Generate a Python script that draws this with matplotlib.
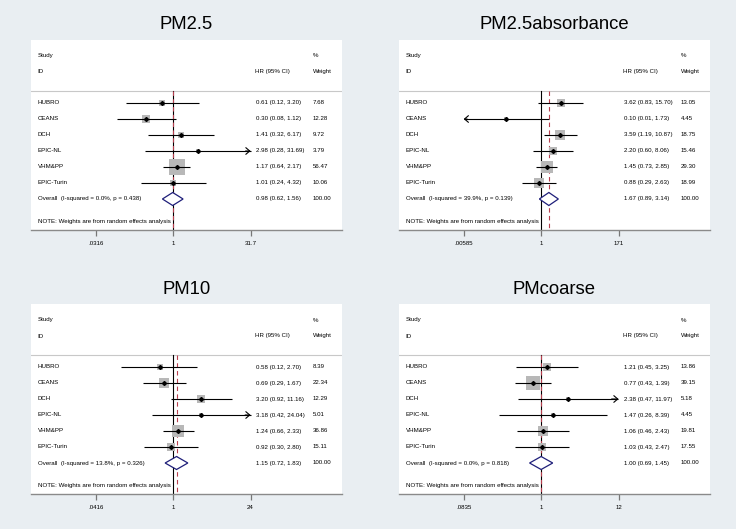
import numpy as np
import matplotlib
matplotlib.use("Agg")
import matplotlib.pyplot as plt
from matplotlib.transforms import blended_transform_factory

plt.rcParams['font.family'] = ['Liberation Sans', 'DejaVu Sans']

studies = ["HUBRO", "CEANS", "DCH", "EPIC-NL", "VHM&PP", "EPIC-Turin"]

titles = ["PM2.5", "PM2.5absorbance", "PM10", "PMcoarse"]

pm25_est = [0.61, 0.30, 1.41, 2.98, 1.17, 1.01]
pm25_lo = [0.12, 0.08, 0.32, 0.28, 0.64, 0.24]
pm25_hi = [3.20, 1.12, 6.17, 31.69, 2.17, 4.32]
pm25_w = [7.68, 12.28, 9.72, 3.79, 56.47, 10.06]
pm25_overall = [0.98, 0.62, 1.56]
pm25_het = [0.0, 0.438]
pm25_ticks = [".0316", "1", "31.7"]

abs_est = [3.62, 0.10, 3.59, 2.20, 1.45, 0.88]
abs_lo = [0.83, 0.00585, 1.19, 0.60, 0.73, 0.29]
abs_hi = [15.70, 1.73, 10.87, 8.06, 2.85, 2.63]
abs_w = [13.05, 4.45, 18.75, 15.46, 29.30, 18.99]
abs_overall = [1.67, 0.89, 3.14]
abs_het = [39.9, 0.139]
abs_ticks = [".00585", "1", "171"]

pm10_est = [0.58, 0.69, 3.20, 3.18, 1.24, 0.92]
pm10_lo = [0.12, 0.29, 0.92, 0.42, 0.66, 0.30]
pm10_hi = [2.70, 1.67, 11.16, 24.04, 2.33, 2.80]
pm10_w = [8.39, 22.34, 12.29, 5.01, 36.86, 15.11]
pm10_overall = [1.15, 0.72, 1.83]
pm10_het = [13.8, 0.326]
pm10_ticks = [".0416", "1", "24"]

coarse_est = [1.21, 0.77, 2.38, 1.47, 1.06, 1.03]
coarse_lo = [0.45, 0.43, 0.47, 0.26, 0.46, 0.43]
coarse_hi = [3.25, 1.39, 11.97, 8.39, 2.43, 2.47]
coarse_w = [13.86, 39.15, 5.18, 4.45, 19.81, 17.55]
coarse_overall = [1.00, 0.69, 1.45]
coarse_het = [0.0, 0.818]
coarse_ticks = [".0835", "1", "12"]

panels = [
    (pm25_est, pm25_lo, pm25_hi, pm25_w, pm25_overall, pm25_het, pm25_ticks),
    (abs_est, abs_lo, abs_hi, abs_w, abs_overall, abs_het, abs_ticks),
    (pm10_est, pm10_lo, pm10_hi, pm10_w, pm10_overall, pm10_het, pm10_ticks),
    (coarse_est, coarse_lo, coarse_hi, coarse_w, coarse_overall, coarse_het, coarse_ticks),
]

W, H = 736, 529
BG = '#e9eef2'
fig = plt.figure(figsize=(W / 100, H / 100), dpi=100, facecolor=BG)

origins = [(0, 0), (368, 0), (0, 264), (368, 264)]
FS = 4.4
ARROW = '->,head_length=0.28,head_width=0.24'

for (ox, oy), title, (est, lo, hi, w, ov, het, tlabs) in zip(origins, titles, panels):
    x0, x1 = ox + 31, ox + 342
    y0, y1 = oy + 40, oy + 230
    ax = fig.add_axes([x0 / W, 1 - y1 / H, (x1 - x0) / W, (y1 - y0) / H])
    ax.set_facecolor('white')
    ax.set_xscale('log')
    t = np.log10(float(tlabs[2]))
    s = 0.498 / (2 * t)
    left = -t - 0.208 / s
    right = t + 0.294 / s
    ax.set_xlim(10 ** left, 10 ** right)
    ax.set_ylim(190, 0)
    tmax = 10 ** t
    tmin = 10 ** -t
    ax.set_xticks([tmin, 1, tmax])
    ax.set_xticklabels(tlabs)
    ax.minorticks_off()
    ax.set_yticks([])
    for sp in ['top', 'left', 'right']:
        ax.spines[sp].set_visible(False)
    ax.spines['bottom'].set_color('#8a8a8a')
    ax.spines['bottom'].set_linewidth(1.0)
    ax.tick_params(axis='x', length=4, width=0.9, color='#777777', labelsize=FS, pad=4)

    tr = blended_transform_factory(ax.transAxes, ax.transData)
    # header
    ax.text(0.0215, 16, "Study", transform=tr, fontsize=FS, va='center', ha='left')
    ax.text(0.0215, 32, "ID", transform=tr, fontsize=FS, va='center', ha='left')
    ax.text(0.72, 32, "HR (95% CI)", transform=tr, fontsize=FS, va='center', ha='left')
    ax.text(0.907, 16, "%", transform=tr, fontsize=FS, va='center', ha='left')
    ax.text(0.907, 32, "Weight", transform=tr, fontsize=FS, va='center', ha='left')
    ax.plot([0, 1], [51, 51], transform=tr, color='#c8c8c8', lw=0.8, zorder=1)

    # reference lines
    ax.plot([1, 1], [51, 190], color='black', lw=0.8, zorder=2)
    ax.plot([ov[0], ov[0]], [51, 190], color='#b8404f', lw=0.8, dashes=(4, 3), zorder=2)

    for i, name in enumerate(studies):
        y = 63 + 16 * i
        ax.scatter([est[i]], [y], marker='s', s=2.33 * w[i], color='#b8b8b8',
                   linewidths=0, zorder=3)
        a = max(lo[i], tmin)
        b = min(hi[i], tmax)
        left_arrow = lo[i] <= tmin * 1.01
        right_arrow = hi[i] >= tmax * 0.99
        ax.plot([a, b], [y, y], color='black', lw=0.8, zorder=4, solid_capstyle='butt')
        if right_arrow:
            ax.annotate('', xy=(tmax, y), xytext=(tmax * 0.8, y),
                        arrowprops=dict(arrowstyle=ARROW, lw=0.8, color='black',
                                        shrinkA=0, shrinkB=0, mutation_scale=10),
                        zorder=4)
        if left_arrow:
            ax.annotate('', xy=(tmin, y), xytext=(tmin * 1.25, y),
                        arrowprops=dict(arrowstyle=ARROW, lw=0.8, color='black',
                                        shrinkA=0, shrinkB=0, mutation_scale=10),
                        zorder=4)
        ax.plot([est[i]], [y], marker='D', ms=2.0, color='black', zorder=5)
        ax.text(0.0215, y, name, transform=tr, fontsize=FS, va='center', ha='left')
        ax.text(0.723, y, f"{est[i]:.2f} ({lo[i]:.2f}, {hi[i]:.2f})", transform=tr,
                fontsize=FS, va='center', ha='left')
        ax.text(0.907, y, f"{w[i]:.2f}", transform=tr, fontsize=FS, va='center', ha='left')

    yo = 159
    ax.fill([ov[1], ov[0], ov[2], ov[0]], [yo, yo - 6.5, yo, yo + 6.5],
            facecolor='white', edgecolor='#1f1f7a', lw=0.9, zorder=5)
    ax.text(0.0215, yo, f"Overall  (I-squared = {het[0]:.1f}%, p = {het[1]:.3f})",
            transform=tr, fontsize=FS, va='center', ha='left')
    ax.text(0.723, yo, f"{ov[0]:.2f} ({ov[1]:.2f}, {ov[2]:.2f})", transform=tr,
            fontsize=FS, va='center', ha='left')
    ax.text(0.907, yo, "100.00", transform=tr, fontsize=FS, va='center', ha='left')
    ax.text(0.0215, 182, "NOTE: Weights are from random effects analysis", transform=tr,
            fontsize=FS, va='center', ha='left')

    ax.text(0.5, 1 + 15 / 190, title, transform=ax.transAxes, fontsize=13.3,
            ha='center', va='center')

fig.savefig("out.png", dpi=100, facecolor=BG)
